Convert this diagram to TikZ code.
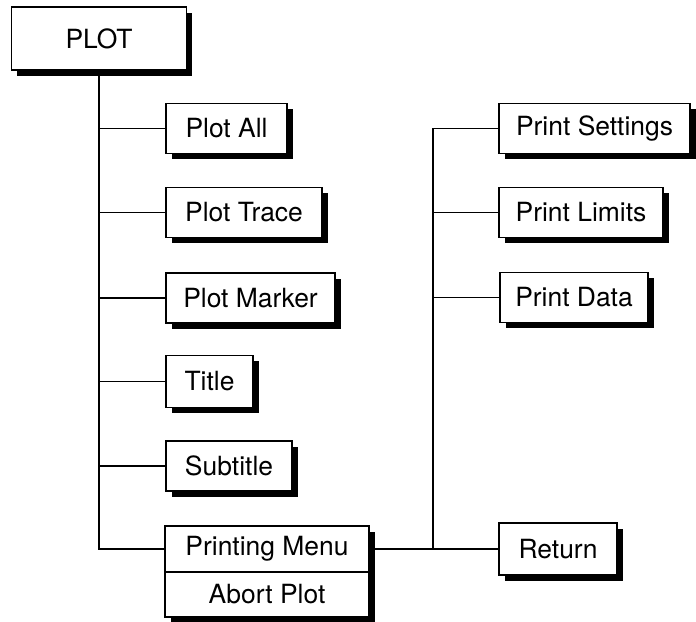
\documentclass[tikz,border=0pt]{standalone}
\usepackage{fontspec}
\setmainfont{TeX Gyre Heros}
\usetikzlibrary{shadows}
\begin{document}
\begin{tikzpicture}[x=0.025cm,y=-0.025cm,line width=1.2pt,
	menubox/.style={draw,fill=white,inner sep=0pt,outer sep=0pt,minimum height=1.25cm,
		font=\fontsize{18.8}{22}\selectfont,
		drop shadow={shadow xshift=0.14cm,shadow yshift=-0.14cm,opacity=1,fill=black}},
	leftbox/.style={menubox,anchor=west}]
		\useasboundingbox (0,0) rectangle (696,622);
		\clip (0,0) rectangle (696,622);
		\node[menubox,minimum width=4.375cm,minimum height=1.575cm] (plot) at (99,38.5) {PLOT};
		\node[leftbox,minimum width=3.025cm] (all) at (166,128.5) {Plot All};
		\node[leftbox,minimum width=3.9cm] (trace) at (166,212.5) {Plot Trace};
		\node[leftbox,minimum width=4.225cm] (marker) at (166,298) {Plot Marker};
		\node[leftbox,minimum width=2.175cm,minimum height=1.3cm] (title) at (166,381.5) {Title};
		\node[leftbox,minimum width=3.15cm] (subtitle) at (166,466) {Subtitle};
		\node[leftbox,minimum width=5.1cm,minimum height=1.15cm] (pm) at (165,549) {Printing Menu};
		\node[menubox,anchor=north,minimum width=5.1cm,minimum height=1.125cm] (abort) at (pm.south) {Abort Plot};
		\node[leftbox,minimum width=4.775cm] (settings) at (499,128.5) {Print Settings};
		\node[leftbox,minimum width=4.1cm] (limits) at (499,212.5) {Print Limits};
		\node[leftbox,minimum width=3.7cm] (data) at (500,297.5) {Print Data};
		\node[leftbox,minimum width=2.95cm,minimum height=1.3cm] (ret) at (499,549) {Return};
		\coordinate (fork) at (433,549);
		\draw (plot.south) |- (pm.west);
		\foreach \n in {all,trace,marker,title,subtitle}
			\draw (plot.south |- \n.west) -- (\n.west);
		\draw (pm.east) -- (ret.west);
		\draw (settings.west) -| (fork);
		\foreach \n in {limits,data}
			\draw (fork |- \n.west) -- (\n.west);
\end{tikzpicture}
\end{document}
